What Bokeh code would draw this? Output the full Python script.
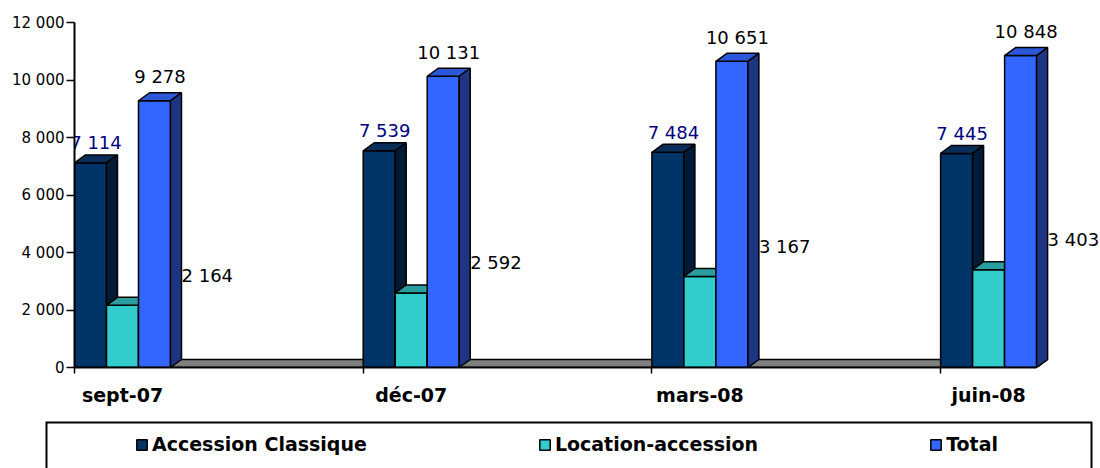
import numpy as np
from bokeh.plotting import figure
from bokeh.layouts import column, row
from bokeh.models import (ColumnDataSource, Range1d, FixedTicker, Legend, LegendItem,
                          BoxAnnotation)
from bokeh.core.properties import value
from bokeh.embed import file_html
from bokeh.resources import INLINE

# --- data -------------------------------------------------------------------
categories = ["sept-07", "déc-07", "mars-08", "juin-08"]
accession_classique = [7114, 7539, 7484, 7445]
location_accession = [2164, 2592, 3167, 3403]
total = [9278, 10131, 10651, 10848]

series_names = ["Accession Classique", "Location-accession", "Total"]
y_ticks = [0, 2000, 4000, 6000, 8000, 10000, 12000]
y_tick_labels = ["0", "2 000", "4 000", "6 000", "8 000", "10 000", "12 000"]

# --- styling ----------------------------------------------------------------
front_colors = ["#003366", "#33CCCC", "#3366FF"]
top_colors = ["#0A2C58", "#2A9E9E", "#2C57D8"]
side_colors = ["#001B36", "#1F7F7F", "#1D3582"]
FONT = "DejaVu Sans"

# screen scale of the plot area: pixels per category slot and per unit of y
PX_PER_CAT = 288.7
PX_PER_UNIT = 0.02875
FRAME_LEFT, FRAME_TOP, FRAME_BOTTOM = 74, 5, 367
WIDTH, MAIN_H, LEG_H = 1100, 420, 48

x_end = (WIDTH - FRAME_LEFT) / PX_PER_CAT
y_end = (FRAME_BOTTOM - FRAME_TOP) / PX_PER_UNIT

BAR_W = 32 / PX_PER_CAT          # width of one bar in category units
DX = 11 / PX_PER_CAT             # 3D depth, horizontal
DY = 8 / PX_PER_UNIT             # 3D depth, vertical


def px_y(px):
    """Convert a vertical pixel distance into data units."""
    return px / PX_PER_UNIT


def fmt(v):
    return f"{v:,}".replace(",", " ")


p = figure(width=WIDTH, height=MAIN_H,
           x_range=Range1d(0, x_end), y_range=Range1d(0, y_end),
           output_backend="svg", toolbar_location=None,
           min_border_left=FRAME_LEFT, min_border_right=0,
           min_border_top=FRAME_TOP, min_border_bottom=MAIN_H - FRAME_BOTTOM)
p.grid.visible = False
p.outline_line_color = None
p.background_fill_color = "white"

idx = np.arange(len(categories), dtype=float)
group_end = idx[-1] + 3 * BAR_W

# floor of the 3D plot
p.patch(x=[0, group_end, group_end + DX, DX], y=[0, 0, DY, DY],
        fill_color="#808080", line_color="black", line_width=1.5)

all_values = [accession_classique, location_accession, total]
front_sources = []
for j, vals in enumerate(all_values):
    v = np.array(vals, dtype=float)
    left = idx + j * BAR_W
    right = left + BAR_W
    src = ColumnDataSource(dict(left=left, right=right,
                                bottom=np.zeros_like(v), top=v))
    front_sources.append(src)
    p.quad(left="left", right="right", bottom="bottom", top="top", source=src,
           fill_color=front_colors[j], line_color="black", line_width=1.5)
    top_xs = [[l, l + DX, r + DX, r] for l, r in zip(left, right)]
    top_ys = [[h, h + DY, h + DY, h] for h in v]
    p.patches(xs=top_xs, ys=top_ys, fill_color=top_colors[j],
              line_color="black", line_width=1.5)
    side_xs = [[r, r + DX, r + DX, r] for r in right]
    side_ys = [[0, DY, h + DY, h] for h in v]
    p.patches(xs=side_xs, ys=side_ys, fill_color=side_colors[j],
              line_color="black", line_width=1.5)

# value labels
ac = np.array(accession_classique, dtype=float)
la = np.array(location_accession, dtype=float)
tt = np.array(total, dtype=float)

src_ac = ColumnDataSource(dict(x=idx + BAR_W / 2 + DX / 2, y=ac + px_y(20),
                               t=[fmt(v) for v in accession_classique]))
p.text(x="x", y="y", text="t", source=src_ac, text_align="center",
       text_baseline="middle", text_color="#000080",
       text_font=value(FONT), text_font_size="18px")

src_tt = ColumnDataSource(dict(x=idx + 2.5 * BAR_W + DX / 2, y=tt + px_y(24),
                               t=[fmt(v) for v in total]))
p.text(x="x", y="y", text="t", source=src_tt, text_align="center",
       text_baseline="middle", text_color="black",
       text_font=value(FONT), text_font_size="18px")

src_la = ColumnDataSource(dict(x=idx + 3 * BAR_W + DX, y=la + px_y(30),
                               t=[fmt(v) for v in location_accession]))
p.text(x="x", y="y", text="t", source=src_la, text_align="left",
       text_baseline="middle", text_color="black",
       text_font=value(FONT), text_font_size="18px")

# y axis
ya = p.yaxis[0]
ya.ticker = FixedTicker(ticks=y_ticks, minor_ticks=[])
ya.major_label_overrides = dict(zip(y_ticks, y_tick_labels))
ya.bounds = (0, 12000)
ya.axis_line_width = 2
ya.major_tick_out = 8
ya.major_tick_in = 0
ya.major_tick_line_width = 1.5
ya.major_label_standoff = 2
ya.major_label_text_font = FONT
ya.major_label_text_font_size = "15px"
ya.major_label_text_color = "black"

# x axis: labels centred under each group, tick marks at group starts
centers = [round(float(c), 6) for c in idx + 1.5 * BAR_W]
starts = [float(s) for s in idx]
xa = p.xaxis[0]
xa.ticker = FixedTicker(ticks=centers, minor_ticks=starts)
xa.major_label_overrides = dict(zip(centers, categories))
xa.bounds = (0, float(group_end))
xa.axis_line_width = 2
xa.major_tick_line_color = None
xa.major_tick_out = 0
xa.major_tick_in = 0
xa.minor_tick_out = 6
xa.minor_tick_in = 0
xa.minor_tick_line_width = 1.5
xa.major_label_standoff = 10
xa.major_label_text_font = FONT
xa.major_label_text_font_style = "bold"
xa.major_label_text_font_size = "19px"
xa.major_label_text_color = "black"

# legend strip.  The swatch renderers share the bar sources but sit outside
# this strip's visible range; the box runs past the bottom edge (open there).
leg = figure(width=WIDTH, height=LEG_H, x_range=Range1d(-3, -2), y_range=Range1d(-3, -2),
             output_backend="svg", toolbar_location=None,
             x_axis_location=None, y_axis_location=None,
             min_border_left=45, min_border_right=8, min_border_top=1, min_border_bottom=0)
leg.grid.visible = False
leg.outline_line_color = None
leg.add_layout(BoxAnnotation(left=-3, right=-2, top=-2, bottom=-5,
                             fill_alpha=0, line_color="black", line_alpha=1,
                             line_width=4))

items = []
for j, name in enumerate(series_names):
    r = leg.quad(left="left", right="right", bottom="bottom", top="top",
                 source=front_sources[j], fill_color=front_colors[j],
                 line_color="black", line_width=1.5)
    items.append(LegendItem(label=name, renderers=[r]))

legend = Legend(items=items, orientation="horizontal", location=(90, 13),
                border_line_color=None, background_fill_alpha=0,
                padding=0, margin=0, spacing=171,
                glyph_width=13, glyph_height=13, label_standoff=4,
                label_text_font=FONT, label_text_font_style="bold",
                label_text_font_size="19px", label_text_color="black")
leg.add_layout(legend)

layout = column(p, row(leg, spacing=0), spacing=0)
open("out.html", "w").write(file_html(layout, INLINE))
